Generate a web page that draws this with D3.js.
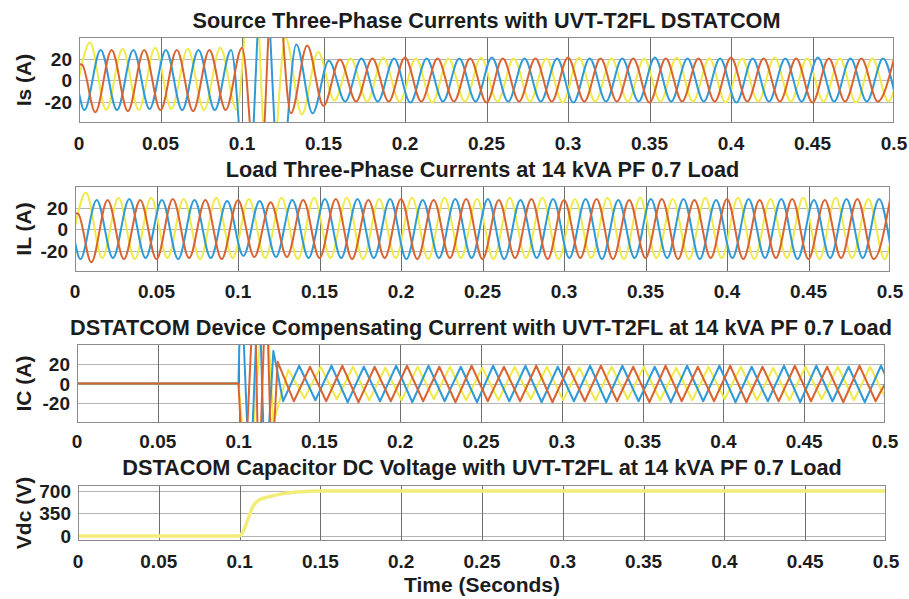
<!DOCTYPE html>
<html>
<head>
<meta charset="utf-8">
<script src="https://cdn.jsdelivr.net/npm/d3@7"></script>
<style>
body { margin: 0; background: #fff; }
text { font-family: "Liberation Sans", Arial, sans-serif; font-weight: bold; fill: #1c1c1c; }
</style>
</head>
<body>
<div id="chart"></div>
<script>
var w = 909;
var h = 599;

// time axis
var timeTicks = [0, 0.05, 0.1, 0.15, 0.2, 0.25, 0.3, 0.35, 0.4, 0.45, 0.5];
var timeLabels = ["0", "0.05", "0.1", "0.15", "0.2", "0.25", "0.3", "0.35", "0.4", "0.45", "0.5"];
// waveform extrema are read every half cycle (50 Hz)
var halfCycle = 0.01;

// Source currents: extremum values, one per half cycle
var isYellowStart = 0.0067;
var isYellow = [35, -28, 29, -28, 30, -27, 29, -28, 30, -28, 120, -120, 39, -32, 26, -19,
  20, -20, 21, -20, 20, -21, 20, -20, 21, -20, 20, -20, 20, -21, 21, -20, 20, -20,
  20, -20, 21, -20, 20, -21, 20, -20, 21, -20, 20, -20, 20, -21, 20, -20];
var isYellowExtra = [[0, 2], [0.5, -10]];
var isBlueStart = 0.0033;
var isBlue = [-28, 28, -28, 28, -27, 28, -28, 28, -28, 28, -120, 120, -100, 33, -31, 18,
  -20, 20, -20, 20, -21, 20, -20, 20, -20, 21, -20, 20, -20, 20, -21, 20, -20, 20,
  -20, 21, -20, 20, -20, 20, -21, 20, -20, 20, -20, 21, -20, 20, -20, 20];
var isBlueExtra = [[0, -12], [0.5, -10]];
var isOrangeStart = 0.01;
var isOrange = [-30, 28, -29, 28, -28, 28, -29, 28, -28, 30, -120, 120, -31, 32, -24, 19,
  -20, 20, -20, 21, -20, 20, -20, 20, -21, 20, -20, 20, -20, 21, -20, 20, -20, 20,
  -21, 20, -20, 20, -20, 21, -20, 20, -20, 20, -21, 20, -20, 20, -20, 20];
var isOrangeExtra = [[0, 15], [0.002, 14]];

// Load currents
var ilYellowStart = 0.0067;
var ilYellow = [34, -27, 29, -28, 29, -27, 28, -28, 29, -27, 28, -27, 29, -28, 29, -27,
  29, -28, 28, -27, 29, -28, 29, -27, 28, -28, 29, -27, 29, -28, 28, -27, 29, -28,
  29, -27, 28, -28, 29, -27, 29, -28, 28, -27, 29, -28, 29, -27, 28, -28];
var ilYellowExtra = [[0, 2], [0.5, -14]];
var ilBlueStart = 0.0033;
var ilBlue = [-28, 27, -27, 28, -27, 27, -28, 27, -27, 26, -25, 26, -26, 27, -27, 28,
  -27, 28, -27, 28, -28, 27, -27, 28, -27, 28, -28, 27, -27, 28, -27, 28, -28, 27,
  -27, 28, -27, 28, -28, 27, -27, 28, -27, 28, -28, 27, -27, 28, -27, 28];
var ilBlueExtra = [[0, -12], [0.5, -14]];
var ilOrangeStart = 0.01;
var ilOrange = [-31, 27, -28, 27, -28, 28, -27, 27, -28, 27, -26, 25, -26, 27, -27, 28,
  -28, 27, -27, 28, -28, 27, -27, 28, -28, 27, -27, 28, -28, 27, -27, 28, -28, 27,
  -27, 28, -28, 27, -27, 28, -28, 27, -27, 28, -28, 27, -27, 28, -28, 27];
var ilOrangeExtra = [[0, 15], [0.002, 14]];

// DSTATCOM compensating currents (null = covered by the transient points)
var icYellowStart = 0.0008;
var icYellow = [0, 0, 0, 0, 0, 0, 0, 0, 0, 0, null, null, null, 14, -15, 17, -16, 17,
  -17, 16, -17, 17, -16, 17, -17, 16, -17, 17, -16, 17, -17, 16, -17, 17, -16, 17,
  -17, 16, -17, 17, -16, 17, -17, 16, -17, 17, -16, 17, -17, 17];
var icYellowExtra = [[0, 0], [0.0999, 0], [0.106, -110], [0.1165, 110], [0.1215, -40], [0.5, -14]];
var icBlueStart = 0.0075;
var icBlue = [0, 0, 0, 0, 0, 0, 0, 0, 0, 0, null, null, -18, 18, -17, 18, -19, 17,
  -18, 18, -19, 18, -18, 17, -19, 18, -18, 18, -19, 17, -18, 18, -19, 18, -18, 17,
  -19, 18, -18, 18, -19, 17, -18, 18, -19, 18, -18, 17, -19, 18];
var icBlueExtra = [[0, 0], [0.0999, 0], [0.1015, 110], [0.107, -110], [0.1125, 110], [0.1165, -110], [0.1215, 33], [0.5, 9]];
var icOrangeStart = 0.0042;
var icOrange = [0, 0, 0, 0, 0, 0, 0, 0, 0, 0, null, null, 22, -18, 17, -18, 18, -19,
  17, -18, 18, -18, 17, -19, 18, -18, 17, -18, 18, -19, 17, -18, 18, -18, 17, -19,
  18, -18, 17, -18, 18, -19, 17, -18, 18, -18, 17, -19, 18, -18];
var icOrangeExtra = [[0, 0], [0.0999, 0], [0.1035, -110], [0.1098, 110], [0.1125, -110], [0.117, 110], [0.1205, -90], [0.5, 0]];

// DC-link capacitor voltage
var vdcTime = [0, 0.1, 0.102, 0.105, 0.108, 0.112, 0.119, 0.128, 0.138, 0.15, 0.5];
var vdcValue = [0, 0, 60, 250, 450, 560, 615, 665, 690, 700, 700];

var yellow = "#f0ea48";
var blue = "#2f9ad8";
var orange = "#da6431";

var panels = [
  { title: "Source Three-Phase Currents with UVT-T2FL DSTATCOM", ylabel: "Is (A)",
    left: 79, right: 894, top: 37, bottom: 123, titleY: 28, tickY: 150,
    yDomain: [-40, 40], yTicks: [-20, 0, 20], curve: d3.curveMonotoneX, width: 2,
    series: [
      { color: yellow, t0: isYellowStart, values: isYellow, extra: isYellowExtra },
      { color: blue, t0: isBlueStart, values: isBlue, extra: isBlueExtra },
      { color: orange, t0: isOrangeStart, values: isOrange, extra: isOrangeExtra }] },
  { title: "Load Three-Phase Currents at 14 kVA PF 0.7 Load", ylabel: "IL (A)",
    left: 75, right: 890, top: 186, bottom: 272, titleY: 177, tickY: 298,
    yDomain: [-40, 40], yTicks: [-20, 0, 20], curve: d3.curveMonotoneX, width: 2,
    series: [
      { color: yellow, t0: ilYellowStart, values: ilYellow, extra: ilYellowExtra },
      { color: blue, t0: ilBlueStart, values: ilBlue, extra: ilBlueExtra },
      { color: orange, t0: ilOrangeStart, values: ilOrange, extra: ilOrangeExtra }] },
  { title: "DSTATCOM Device Compensating Current with UVT-T2FL at 14 kVA PF 0.7 Load", ylabel: "IC (A)",
    left: 77, right: 885, top: 344, bottom: 423, titleY: 335, tickY: 448,
    yDomain: [-40, 40], yTicks: [-20, 0, 20], curve: d3.curveLinear, width: 2,
    series: [
      { color: yellow, t0: icYellowStart, values: icYellow, extra: icYellowExtra },
      { color: blue, t0: icBlueStart, values: icBlue, extra: icBlueExtra },
      { color: orange, t0: icOrangeStart, values: icOrange, extra: icOrangeExtra }] },
  { title: "DSTACOM Capacitor DC Voltage with UVT-T2FL at 14 kVA PF 0.7 Load", ylabel: "Vdc (V)",
    left: 78, right: 886, top: 485, bottom: 541, titleY: 475, tickY: 568,
    yDomain: [-80, 795], yTicks: [0, 350, 700], curve: d3.curveMonotoneX, width: 3.5,
    series: [
      { color: "#f2ed78", t0: 0, values: [], extra: d3.zip(vdcTime, vdcValue) }] }
];

var svg = d3.select("#chart")
  .append("svg")
  .attr("width", w)
  .attr("height", h);

// merge the half-cycle extrema with the extra points
function buildPoints(s) {
  var pts = s.extra.slice();
  s.values.forEach(function(v, i) {
    if (v !== null) pts.push([s.t0 + i * halfCycle, v]);
  });
  pts.sort(function(a, b) { return a[0] - b[0]; });
  return pts;
}

panels.forEach(function(p, pi) {
  var x = d3.scaleLinear().domain([0, 0.5]).range([p.left, p.right]);
  var y = d3.scaleLinear().domain(p.yDomain).range([p.bottom, p.top]);
  var g = svg.append("g");

  // grid
  g.selectAll(".hgrid")
    .data(p.yTicks)
    .enter()
    .append("line")
    .attr("x1", p.left).attr("x2", p.right)
    .attr("y1", function(d) { return Math.round(y(d)) + 0.5; })
    .attr("y2", function(d) { return Math.round(y(d)) + 0.5; })
    .style("stroke", "#b4b4b4").style("stroke-width", 1);
  g.selectAll(".vgrid")
    .data(timeTicks.slice(1, -1))
    .enter()
    .append("line")
    .attr("y1", p.top).attr("y2", p.bottom)
    .attr("x1", function(d) { return Math.round(x(d)) + 0.5; })
    .attr("x2", function(d) { return Math.round(x(d)) + 0.5; })
    .style("stroke", "#6e6e6e").style("stroke-width", 1);

  // clip and draw the traces
  svg.append("clipPath")
    .attr("id", "clip" + pi)
    .append("rect")
    .attr("x", p.left).attr("y", p.top)
    .attr("width", p.right - p.left).attr("height", p.bottom - p.top);

  var line = d3.line()
    .x(function(d) { return x(d[0]); })
    .y(function(d) { return y(d[1]); })
    .curve(p.curve);

  g.append("g")
    .attr("clip-path", "url(#clip" + pi + ")")
    .selectAll("path")
    .data(p.series)
    .enter()
    .append("path")
    .attr("d", function(s) { return line(buildPoints(s)); })
    .style("fill", "none")
    .style("stroke", function(s) { return s.color; })
    .style("stroke-width", p.width)
    .style("stroke-linejoin", "round");

  // box
  g.append("rect")
    .attr("x", p.left + 0.5).attr("y", p.top + 0.5)
    .attr("width", p.right - p.left - 1).attr("height", p.bottom - p.top - 1)
    .style("fill", "none").style("stroke", "#8c8c8c").style("stroke-width", 1);

  // tick labels
  g.selectAll(".xtick")
    .data(timeTicks)
    .enter()
    .append("text")
    .attr("x", function(d) { return x(d); })
    .attr("y", p.tickY)
    .style("text-anchor", "middle")
    .style("font-size", "19px")
    .text(function(d, i) { return timeLabels[i]; });
  g.selectAll(".ytick")
    .data(p.yTicks)
    .enter()
    .append("text")
    .attr("x", p.left - 7)
    .attr("y", function(d) { return y(d) + 7; })
    .style("text-anchor", "end")
    .style("font-size", "19px")
    .text(function(d) { return d; });

  // title and y label
  g.append("text")
    .attr("x", (p.left + p.right) / 2)
    .attr("y", p.titleY)
    .style("text-anchor", "middle")
    .style("font-size", "21.7px")
    .text(p.title);
  g.append("text")
    .attr("transform", "translate(31," + ((p.top + p.bottom) / 2) + ") rotate(-90)")
    .style("text-anchor", "middle")
    .style("font-size", "21px")
    .text(p.ylabel);
});

svg.append("text")
  .attr("x", 482)
  .attr("y", 592)
  .style("text-anchor", "middle")
  .style("font-size", "21px")
  .text("Time (Seconds)");
</script>
</body>
</html>
